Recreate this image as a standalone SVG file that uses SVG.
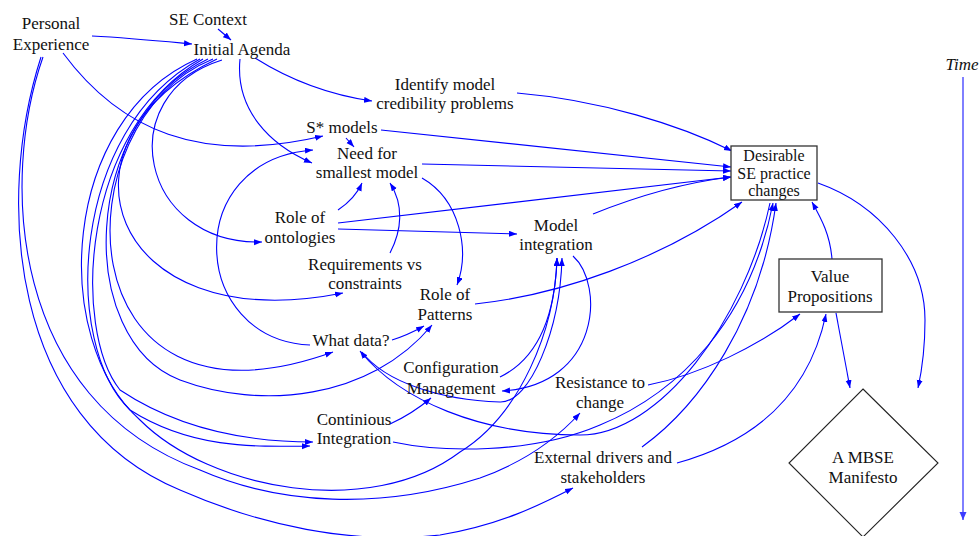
<svg xmlns="http://www.w3.org/2000/svg" width="979" height="536" viewBox="0 0 979 536">
<defs>
<marker id="ah" markerUnits="userSpaceOnUse" markerWidth="9" markerHeight="7" refX="8" refY="3" orient="auto"><path d="M0,0 L8,3 L0,6 z" fill="#0000ff"/></marker>
<marker id="aht" markerUnits="userSpaceOnUse" markerWidth="9" markerHeight="9" refX="8" refY="3.5" orient="auto"><path d="M0,0 L8,3.5 L0,7 z" fill="#3b3bff"/></marker>
</defs>
<style>
text{font-family:"Liberation Serif","Times New Roman",serif;font-size:17px;fill:#111;text-anchor:middle}
.bt{font-size:16px}
.e path{fill:none;stroke:#0000ff;stroke-width:1.1;marker-end:url(#ah)}
.box{fill:#fff;stroke:#333;stroke-width:1.3}
</style>
<rect width="979" height="536" fill="#fff"/>
<g class="e" id="connectors">
<path d="M218,29 L231,40"/>
<path d="M92,36 C130,38 160,41 192,44"/>
<path d="M63,53 C120,130 200,165 323,136"/>
<path d="M255,58 C290,80 330,95 372,101"/>
<path d="M240,59 C235,110 270,145 312,163"/>
<path d="M346,138 L354,147"/>
<path d="M310,345 C190,340 180,160 313,150"/>
<path d="M338,210 C350,202 358,192 362,183"/>
<path d="M390,253 C402,230 404,205 390,183"/>
<path d="M422,178 C460,200 470,250 457,285"/>
<path d="M381,130 L731,167"/>
<path d="M422,164 L731,171"/>
<path d="M338,223 L731,177"/>
<path d="M338,229 L517,234"/>
<path d="M593,214 C640,195 690,182 731,177"/>
<path d="M517,93 C600,100 680,125 732,151"/>
<path d="M475,304 C560,295 660,260 742,202"/>
<path d="M392,340 C405,336 415,331 424,326"/>
<path d="M390,424 Q412,414 431,398"/>
<path d="M573,256 C605,285 600,385 502,391"/>
<path d="M500,377 C535,360 555,320 557,258"/>
<path d="M362,352 C385,382 440,400 500,402 C530,403 560,330 562,258"/>
<path d="M770,203 C745,320 660,435 580,435 C480,435 400,400 360,351"/>
<path d="M393,442 C440,452 530,455 600,425 C680,392 750,320 773,203"/>
<path d="M642,447 C700,405 760,320 776,203"/>
<path d="M677,463 C760,440 810,390 826,314"/>
<path d="M648,385 C700,375 760,345 800,314"/>
<path d="M832,259 C830,235 822,220 812,202"/>
<path d="M836,313 L850,388"/>
<path d="M818,183 C880,205 925,260 925,320 C925,350 922,370 918,388"/>
<path d="M222,60 C110,95 140,245 262,242"/>
<path d="M217,59 C45,140 105,340 343,293"/>
<path d="M213,59 C60,120 60,450 333,352"/>
<path d="M208,59 C80,120 75,340 180,380 C260,410 370,400 432,325"/>
<path d="M203,59 C80,130 72,330 120,390 C180,430 250,442 313,442"/>
<path d="M200,59 C70,130 62,345 130,410 C190,448 250,447 310,446"/>
<path d="M197,59 C60,120 50,340 140,420 C210,490 370,520 460,452 C520,415 555,330 557,258"/>
<path d="M43,57 C0,180 10,400 200,470 C280,505 380,510 480,478 C530,460 560,435 580,413"/>
<path d="M41,57 C-5,200 10,420 180,490 C260,525 350,545 440,535 C500,525 540,505 573,488"/>
</g>
<g id="time">
<line x1="963" y1="77" x2="963" y2="520" stroke="#3b3bff" stroke-width="1.3" marker-end="url(#aht)"/>
<text x="962" y="70" font-style="italic">Time</text>
</g>
<g id="personal-experience"><text x="51" y="29">Personal</text><text x="51" y="50">Experience</text></g>
<g id="se-context"><text x="208" y="25">SE Context</text></g>
<g id="initial-agenda"><text x="242" y="55">Initial Agenda</text></g>
<g id="identify"><text x="445" y="90">Identify model</text><text x="445" y="109">credibility problems</text></g>
<g id="s-models"><text x="342" y="133">S* models</text></g>
<g id="need-smallest"><text x="367" y="159">Need for</text><text x="367" y="178">smallest model</text></g>
<g id="role-ontologies"><text x="300" y="223">Role of</text><text x="300" y="243">ontologies</text></g>
<g id="model-integration"><text x="556" y="231">Model</text><text x="556" y="250">integration</text></g>
<g id="requirements"><text x="365" y="270">Requirements vs</text><text x="365" y="289">constraints</text></g>
<g id="role-patterns"><text x="445" y="300">Role of</text><text x="445" y="320">Patterns</text></g>
<g id="what-data"><text x="351" y="346">What data?</text></g>
<g id="config-mgmt"><text x="451" y="373">Configuration</text><text x="451" y="394">Management</text></g>
<g id="continious"><text x="354" y="425">Continious</text><text x="354" y="444">Integration</text></g>
<g id="resistance"><text x="600" y="388">Resistance to</text><text x="600" y="408">change</text></g>
<g id="external"><text x="603" y="463">External drivers and</text><text x="603" y="483">stakeholders</text></g>
<g id="desirable"><rect class="box" x="731" y="146" width="86" height="54"/><text class="bt" x="774" y="161">Desirable</text><text class="bt" x="774" y="178.5">SE practice</text><text class="bt" x="774" y="196">changes</text></g>
<g id="value"><rect class="box" x="779" y="259" width="103" height="53"/><text x="830" y="282">Value</text><text x="830" y="302">Propositions</text></g>
<g id="manifesto"><polygon points="863,389 938,463 863,537 789,463" fill="#fff" stroke="#222" stroke-width="1.1"/><text x="863" y="463">A MBSE</text><text x="863" y="483">Manifesto</text></g>
</svg>
